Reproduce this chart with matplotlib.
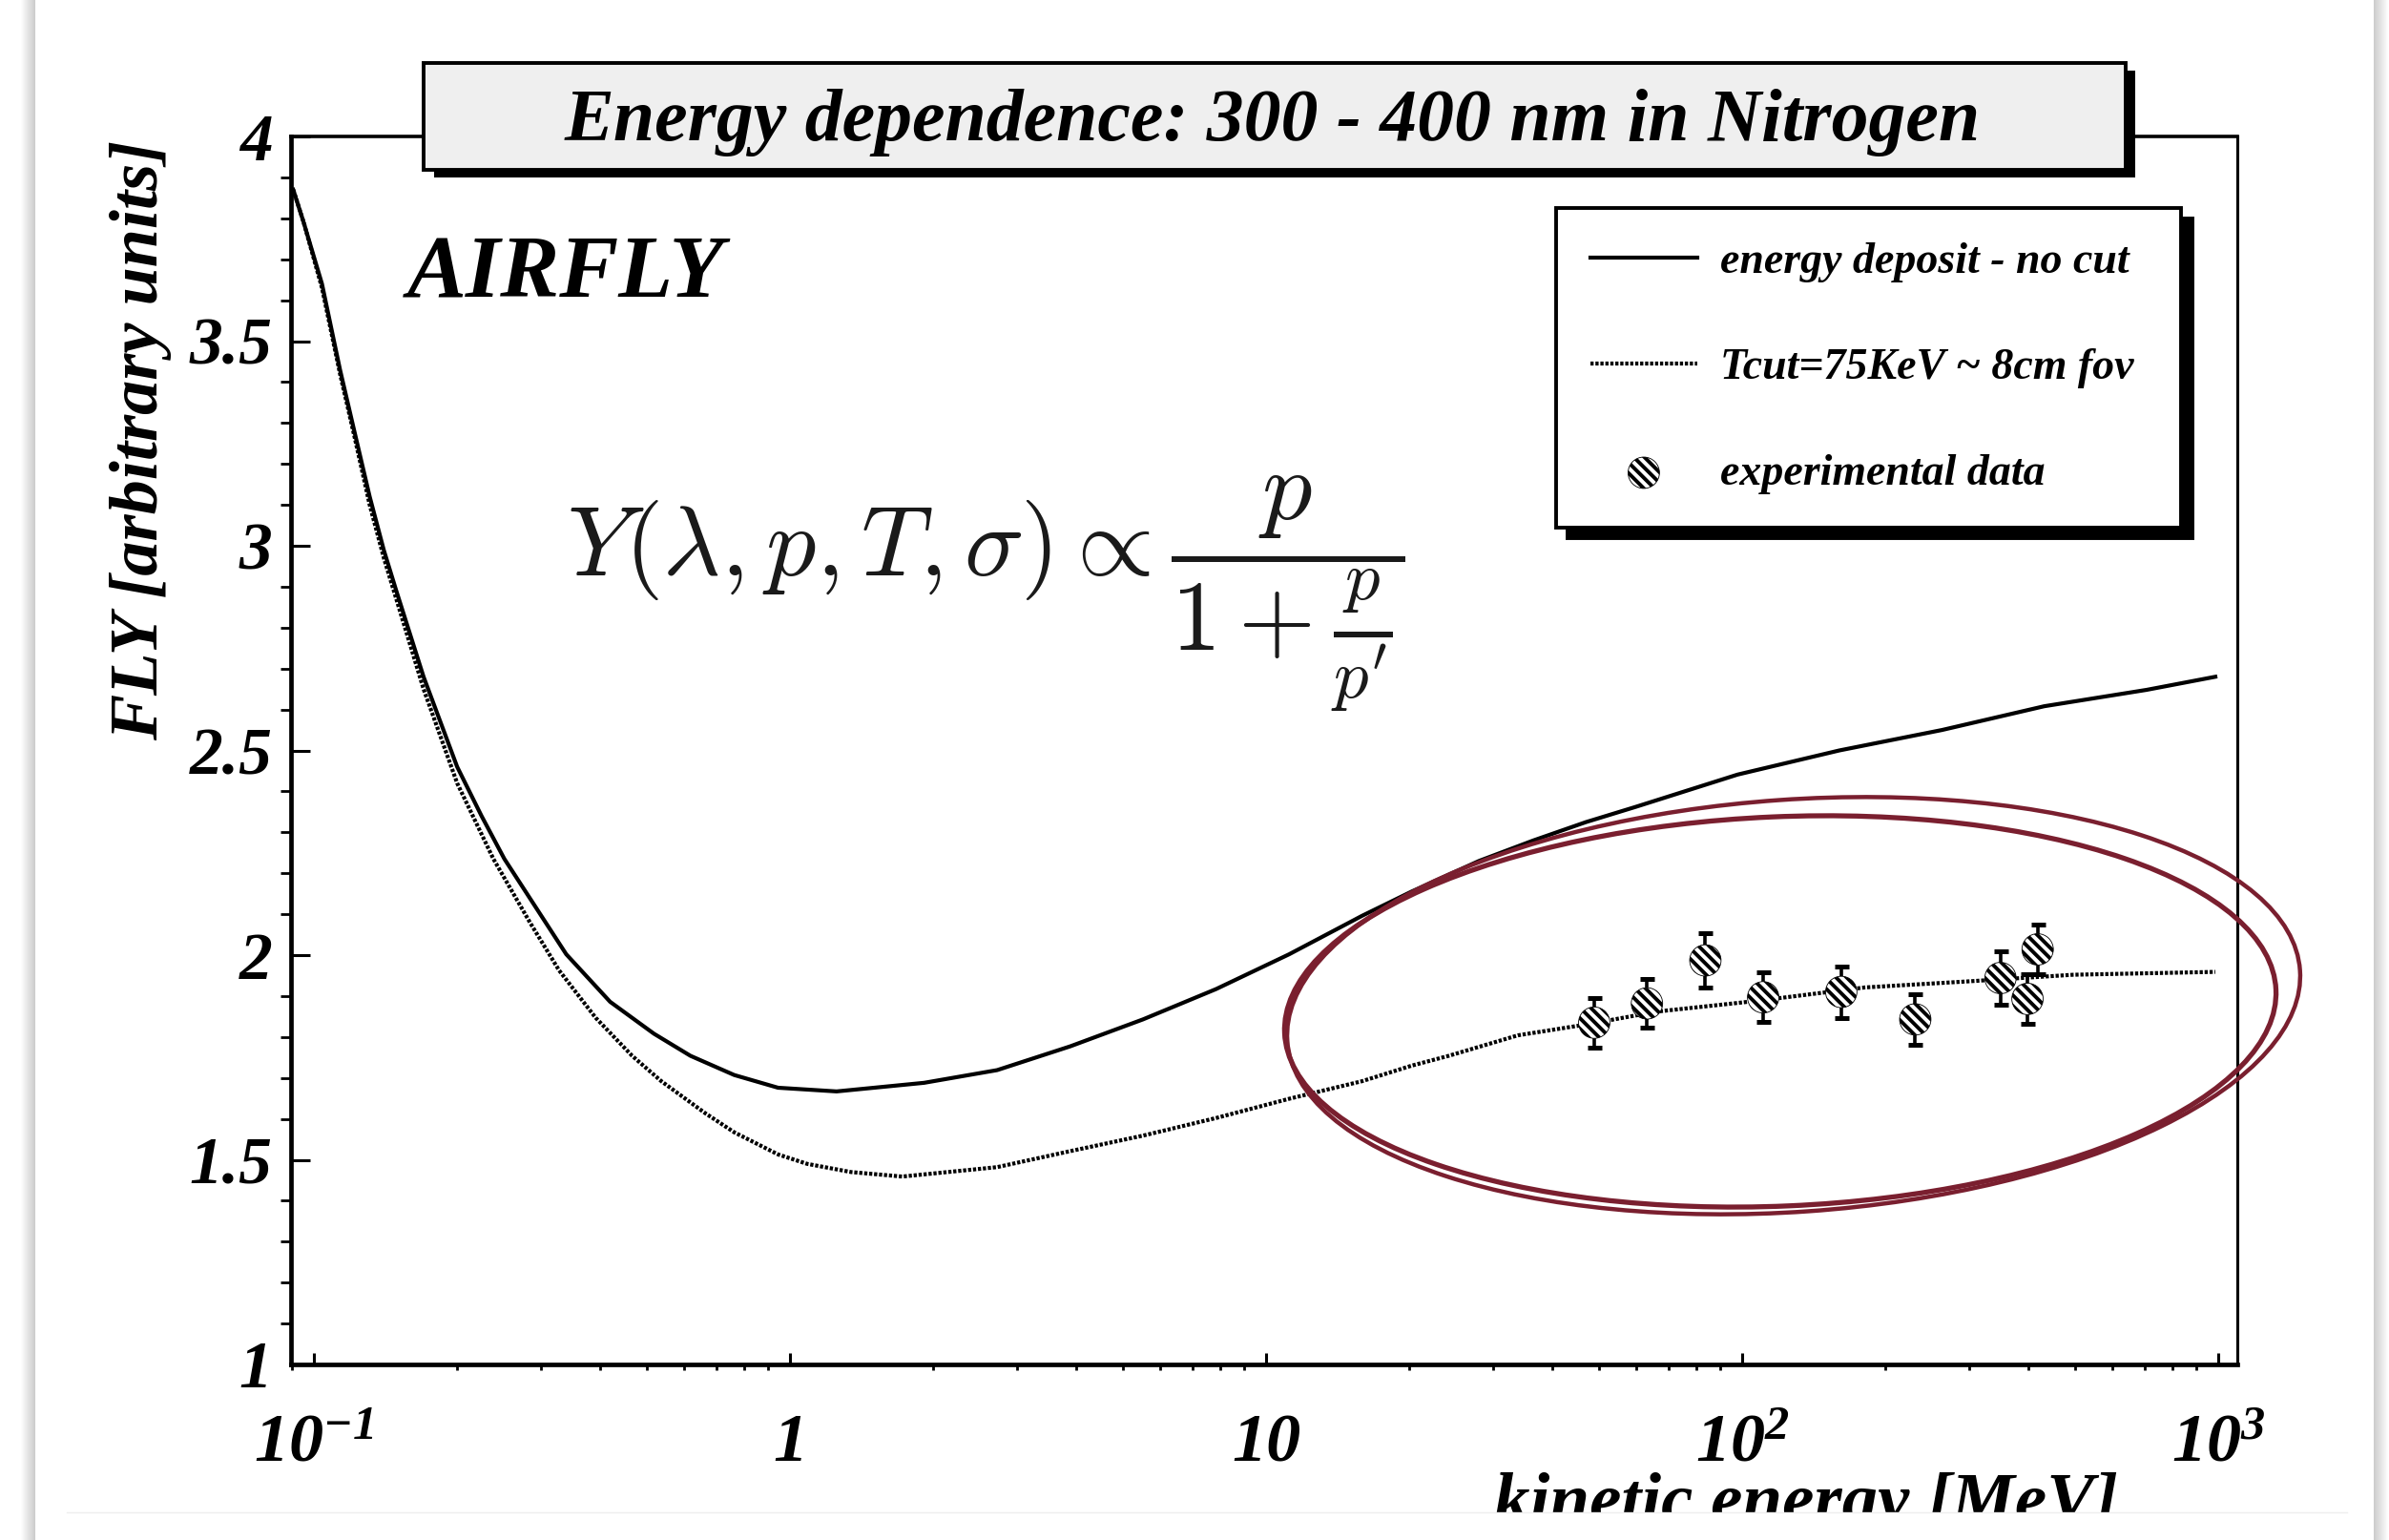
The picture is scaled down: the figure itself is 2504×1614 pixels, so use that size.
import numpy as np
import matplotlib
matplotlib.use("Agg")
import matplotlib.pyplot as plt
from matplotlib.patches import Rectangle, Ellipse
from matplotlib.lines import Line2D
from matplotlib.ticker import FixedLocator, MultipleLocator, LogLocator, NullFormatter

W, H, DPI = 2504, 1614, 100

# energy deposit - no cut
energy_solid = [0.0905, 0.0952, 0.104, 0.1135, 0.1218, 0.131, 0.1403, 0.149, 0.17, 0.20,
                0.225, 0.2513, 0.339, 0.419, 0.518, 0.618, 0.764, 0.944, 1.253, 1.913,
                2.723, 3.876, 5.516, 7.852, 11.18, 15.91, 20.2, 28.0, 36.4, 47.0,
                59.7, 97.8, 160, 263, 431, 707, 986]
fly_solid = [3.87, 3.79, 3.64, 3.43, 3.277, 3.12, 2.989, 2.89, 2.68, 2.46,
             2.34, 2.235, 2.002, 1.886, 1.808, 1.754, 1.707, 1.676, 1.667, 1.688,
             1.719, 1.777, 1.843, 1.917, 2.002, 2.096, 2.155, 2.23, 2.28, 2.325,
             2.362, 2.441, 2.50, 2.55, 2.608, 2.648, 2.68]

# Tcut = 75 keV
energy_cut = [0.0905, 0.0952, 0.104, 0.1135, 0.1218, 0.131, 0.1403, 0.149, 0.17, 0.20,
              0.2383, 0.2843, 0.3273, 0.3907, 0.4661, 0.5368, 0.6634, 0.7641, 0.9443, 1.087,
              1.344, 1.721, 2.723, 3.876, 5.516, 7.852, 11.18, 15.91, 20.23, 24.2,
              33.8, 47.3, 66.2, 109, 181, 300, 496, 986]
fly_cut = [3.87, 3.79, 3.63, 3.42, 3.265, 3.10, 2.97, 2.87, 2.65, 2.42,
           2.235, 2.080, 1.963, 1.847, 1.754, 1.692, 1.614, 1.567, 1.513, 1.490,
           1.470, 1.459, 1.482, 1.521, 1.559, 1.602, 1.649, 1.692, 1.730, 1.754,
           1.804, 1.831, 1.862, 1.889, 1.921, 1.936, 1.952, 1.959]

# measurements
exp_energy = [48.9, 63.1, 83.7, 110.7, 161.5, 231, 348.8, 397.5, 417.5]
exp_fly = [1.835, 1.882, 1.987, 1.897, 1.91, 1.843, 1.944, 1.893, 2.014]
exp_err = [0.06, 0.059, 0.066, 0.06, 0.063, 0.062, 0.065, 0.061, 0.061]

x_ticks = [0.1, 1, 10, 100, 1000]
x_tick_labels = [r'$\mathdefault{10^{-1}}$', '1', '10',
                 r'$\mathdefault{10^{2}}$', r'$\mathdefault{10^{3}}$']
y_ticks = [1, 1.5, 2, 2.5, 3, 3.5, 4]
y_tick_labels = ['1', '1.5', '2', '2.5', '3', '3.5', '4']
labels = ['energy deposit - no cut', 'Tcut=75KeV ~ 8cm fov', 'experimental data']

BI = dict(family='Liberation Serif', weight='bold', style='italic')
RED = '#7a1f2f'
DOTS = (0, (0.8, 0.45))

fig = plt.figure(figsize=(W / DPI, H / DPI), dpi=DPI)
fig.patch.set_facecolor('white')
inch = fig.dpi_scale_trans


def box(x0, y0, x1, y1, **kw):
    # rectangle in pixels, y counted from the top
    return Rectangle((x0 / DPI, (H - y1) / DPI), (x1 - x0) / DPI, (y1 - y0) / DPI,
                     transform=inch, **kw)


def at(x, y):
    return x / DPI, (H - y) / DPI


# page card with soft side shadows
bg = fig.add_axes([0, 0, 1, 1], zorder=-10)
left_shade = np.linspace(1.0, 0.80, 16)[None, :]
right_shade = np.linspace(0.80, 1.0, 16)[None, :]
bg.imshow(left_shade, extent=(21, 37, H, 0), cmap='gray', vmin=0, vmax=1, aspect='auto')
bg.imshow(right_shade, extent=(2488, 2504, H, 0), cmap='gray', vmin=0, vmax=1, aspect='auto')
bg.set_xlim(0, W)
bg.set_ylim(H, 0)
bg.axis('off')

ax = fig.add_axes([305 / W, 1 - 1430 / H, (2345 - 305) / W, (1430 - 143) / H])
ax.set_xscale('log')
ax.set_xlim(10 ** -1.048, 10 ** 3.040)
ax.set_ylim(1, 4)

ax.plot(energy_solid, fly_solid, color='k', lw=3.0, solid_joinstyle='round')
ax.plot(energy_cut, fly_cut, color='k', lw=3.0, ls=DOTS)

ax.errorbar(exp_energy, exp_fly, yerr=exp_err, fmt='none', ecolor='k',
            elinewidth=2.6, capsize=5.4, capthick=3.6, zorder=3)
plt.rcParams['hatch.linewidth'] = 2.8
pts = ax.scatter(exp_energy, exp_fly, s=560, facecolor='white', edgecolor='k',
                 linewidths=0.6, hatch='\\\\\\', zorder=4)

ax.xaxis.set_major_locator(FixedLocator(x_ticks))
ax.set_xticklabels(x_tick_labels)
ax.xaxis.set_minor_locator(LogLocator(base=10, subs=np.arange(2, 10)))
ax.xaxis.set_minor_formatter(NullFormatter())
ax.yaxis.set_major_locator(FixedLocator(y_ticks))
ax.set_yticklabels(y_tick_labels)
ax.yaxis.set_minor_locator(MultipleLocator(0.1))

ax.tick_params(direction='in', top=False, right=False, width=2.2)
ax.tick_params(axis='x', which='major', length=8.6, pad=73)
ax.tick_params(axis='x', which='minor', length=4.3, width=2.0)
ax.tick_params(axis='y', which='major', length=14.4, pad=14)
ax.tick_params(axis='y', which='minor', length=8, width=2.0)
for lbl in ax.get_xticklabels():
    lbl.set(size=52, va='baseline', **BI)
for lbl in ax.get_yticklabels():
    lbl.set(size=50, **BI)

for side, lw in (('left', 3.4), ('bottom', 3.4), ('top', 2.6), ('right', 2.2)):
    ax.spines[side].set_linewidth(lw)

ax.set_ylabel('FLY [arbitrary units]', size=52, **BI)
ax.yaxis.set_label_coords((148 - 305) / 2040, (1430 - 461) / 1287)
ax.yaxis.label.set(ha='center', va='center')
ax.set_xlabel('kinetic energy [MeV]', size=54, **BI)
ax.xaxis.set_label_coords((2220 - 305) / 2040, (1430 - 1595) / 1287)
ax.xaxis.label.set(ha='right', va='baseline')

leg = ax.legend([Line2D([], [], color='k', lw=3.0),
                 Line2D([], [], color='k', lw=3.0, ls=DOTS),
                 pts], labels,
                loc='upper left', mode='expand', borderaxespad=0,
                bbox_to_anchor=((1631 - 305) / 2040, (1430 - 218) / 1287,
                                (2286 - 1631) / 2040, 0),
                prop=dict(size=33, **BI), fancybox=False, framealpha=1,
                edgecolor='k', borderpad=0.78, labelspacing=1.5,
                handlelength=2.45, handletextpad=0.52, scatterpoints=1,
                shadow={'ox': 8.6, 'oy': -8, 'color': 'k', 'alpha': 1})
leg.get_frame().set_linewidth(2.8)

fig.text(*at(427, 312), 'AIRFLY', size=67, va='baseline', ha='left',
         transform=inch, **BI)
fig.text(*at(594, 622),
         r'$Y(\lambda,p,T,\sigma) \propto \dfrac{p}{1+\frac{p}{p^{\prime}}}$',
         size=75, ha='left', va='center', color='#1a1a1a', math_fontfamily='cm',
         transform=inch)

# title banner
fig.add_artist(box(455, 74, 2238, 186, facecolor='k', edgecolor='none', zorder=5))
fig.add_artist(box(444, 66, 2228, 178, facecolor='#efefef', edgecolor='k',
                   lw=2.8, zorder=6))
fig.text(*at(1334, 128), 'Energy dependence: 300 - 400 nm in Nitrogen',
         size=56, ha='center', va='center', zorder=7, transform=inch, **BI)

# hand-drawn circling of the data region
for cx, cy, w, h, ang, lw in ((1866, 1060, 1040, 408, 2.5, 3.8),
                              (1880, 1054, 1064, 432, 4.0, 3.2)):
    fig.add_artist(Ellipse(at(cx, cy), w / DPI, h / DPI, angle=ang, fill=False,
                           edgecolor=RED, lw=lw, transform=inch, zorder=8))

# page edge under the axis label
fig.add_artist(box(37, 1585, 2488, H + 5, facecolor='white', edgecolor='none', zorder=9))
fig.add_artist(Line2D([70 / DPI, 2460 / DPI], [(H - 1585) / DPI] * 2, color='#eeeeee',
                      lw=1, transform=inch, zorder=10))

fig.savefig('out.png', dpi=DPI)
